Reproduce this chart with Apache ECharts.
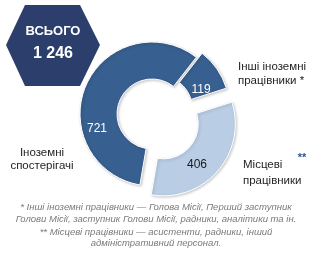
<!DOCTYPE html>
<html><head><meta charset="utf-8">
<script src="https://cdn.jsdelivr.net/npm/echarts@6/dist/echarts.min.js"></script>
<style>html,body{margin:0;padding:0;background:#fff}#c{width:312px;height:256px}</style>
</head><body><div id="c"></div>
<script>
// ---- data ----
const categories = ['Інші іноземні працівники', 'Місцеві працівники', 'Іноземні спостерігачі'];
const values = [119, 406, 721];
const nameLines = [['Інші іноземні', 'працівники *'], ['Місцеві', 'працівники'], ['Іноземні', 'спостерігачі']];
const totalTitle = 'ВСЬОГО';
const footnotes = [
  '* Інші іноземні працівники — Голова Місії, Перший заступник',
  'Голови Місії, заступник Голови Місії, радники, аналітики та ін.',
  '** Місцеві працівники — асистенти, радники, інший',
  'адміністративний персонал.'
];

// ---- styles / layout ----
const sliceColors = ['#375f8f', '#b9cde5', '#375f8f'];
const labelColors = ['#ffffff', '#1a1a1a', '#ffffff'];
const explodeOffset = [7, 15, 0];
const labelPos = [[201, 90], [197, 165], [97, 129]];
const namePos = [
  [{x: 238, y: 67, a: 'left'}, {x: 238, y: 81, a: 'left'}],
  [{x: 243, y: 165, a: 'left'}, {x: 243, y: 181, a: 'left'}],
  [{x: 42, y: 153, a: 'center'}, {x: 42, y: 166, a: 'center'}]
];
const footY = [207, 219.5, 232, 243];
const FONT = '"Liberation Sans", Arial, sans-serif';
const CX = 152, CY = 114, START = 52; // startAngle (deg, ECharts convention)

const total = values.reduce((s, v) => s + v, 0);
const totalText = String(total).replace(/\B(?=(\d{3})+(?!\d))/g, ' ');

const chart = echarts.init(document.getElementById('c'), null, {renderer: 'canvas'});

const graphics = [];
graphics.push({
  type: 'polygon', z: 10,
  shape: {points: [[6, 45], [25, 5], [80, 5], [100, 45], [80, 86], [25, 86]]},
  style: {fill: '#2c3e6b'}
});
graphics.push({type: 'text', z: 11, x: 53, y: 31, style: {text: totalTitle, fill: '#fff', font: 'bold 13px ' + FONT, align: 'center', verticalAlign: 'middle'}});
graphics.push({type: 'text', z: 11, x: 53, y: 54, style: {text: totalText, fill: '#fff', font: 'bold 16px ' + FONT, align: 'center', verticalAlign: 'middle'}});
nameLines.forEach((lines, i) => {
  lines.forEach((t, j) => {
    const p = namePos[i][j];
    graphics.push({type: 'text', x: p.x, y: p.y, style: {text: t, fill: '#1f1f1f', font: '11.5px ' + FONT, align: p.a, verticalAlign: 'middle'}});
  });
});
graphics.push({type: 'text', x: 302, y: 158, style: {text: '**', fill: '#2f5597', font: 'bold 11px ' + FONT, align: 'center', verticalAlign: 'middle'}});
footnotes.forEach((t, i) => {
  graphics.push({type: 'text', x: 156, y: footY[i], style: {text: t, fill: '#7a7a7a', font: 'italic 9.5px ' + FONT, align: 'center', verticalAlign: 'middle'}});
});

// one pie series per slice so each slice can be exploded independently
let cum = 0;
const series = values.map((v, i) => {
  const midClock = (90 - START) + (cum + v / 2) / total * 360; // clockwise from top
  cum += v;
  const rad = midClock * Math.PI / 180;
  const cx = CX + explodeOffset[i] * Math.sin(rad);
  const cy = CY - explodeOffset[i] * Math.cos(rad);
  return {
    type: 'pie',
    center: [cx, cy],
    radius: [35, 72],
    startAngle: START,
    clockwise: true,
    silent: true,
    z: 2 + (i === 2 ? 0 : 1),
    emphasis: {disabled: true},
    labelLine: {show: false},
    labelLayout: (p) => ({x: labelPos[p.dataIndex][0], y: labelPos[p.dataIndex][1], align: 'center', verticalAlign: 'middle'}),
    data: categories.map((c, j) => ({
      name: c, value: values[j],
      itemStyle: j === i
        ? {color: sliceColors[j], borderColor: '#ffffff', borderWidth: 1, shadowBlur: 3, shadowColor: 'rgba(0,0,0,0.22)', shadowOffsetX: 1, shadowOffsetY: 1}
        : {color: 'rgba(0,0,0,0)', borderWidth: 0},
      label: j === i
        ? {show: true, position: 'inside', formatter: '{c}', color: labelColors[j], fontFamily: FONT, fontSize: 12}
        : {show: false}
    }))
  };
});

chart.setOption({animation: false, series: series, graphic: graphics});
</script></body></html>
